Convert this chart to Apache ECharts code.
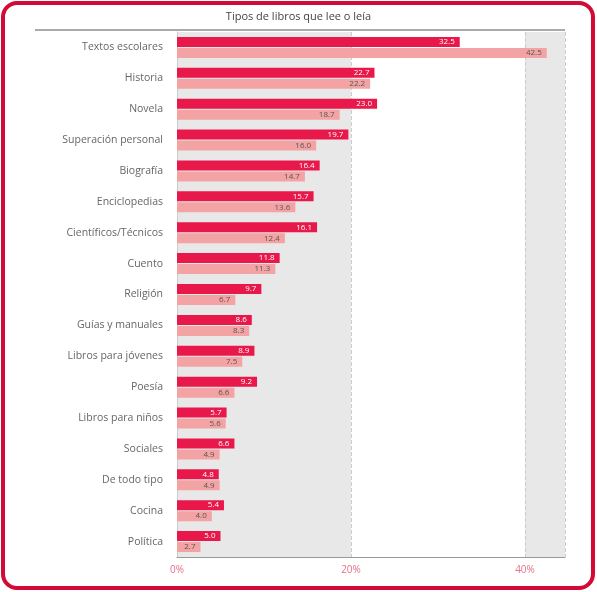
<!DOCTYPE html>
<html><head><meta charset="utf-8">
<script src="https://cdn.jsdelivr.net/npm/echarts@6/dist/echarts.min.js"></script>
<style>html,body{margin:0;padding:0;background:#fff}#c{width:597px;height:592px}</style>
</head><body><div id="c"></div>
<script>
const categories = ["Textos escolares","Historia","Novela","Superación personal","Biografía","Enciclopedias","Científicos/Técnicos","Cuento","Religión","Guías y manuales","Libros para jóvenes","Poesía","Libros para niños","Sociales","De todo tipo","Cocina","Política"];
const seriesA = [32.5,22.7,23.0,19.7,16.4,15.7,16.1,11.8,9.7,8.6,8.9,9.2,5.7,6.6,4.8,5.4,5.0];
const seriesB = [42.5,22.2,18.7,16.0,14.7,13.6,12.4,11.3,6.7,8.3,7.5,6.6,5.6,4.9,4.9,4.0,2.7];
const titleText = "Tipos de libros que lee o leía";

const chart = echarts.init(document.getElementById('c'));
const fmt = p => p.value.toFixed(1);
chart.setOption({
  animation:false,
  title:{text:titleText,left:'center',top:6,textStyle:{fontSize:11,fontWeight:'normal',color:'#444',fontFamily:'Open Sans'}},
  grid:{left:177,right:32,top:32,bottom:35},
  graphic:[
    {type:'rect',x:3,y:3,shape:{x:0,y:0,width:590,height:585,r:14},style:{fill:'none',stroke:'#d20a35',lineWidth:4},z:100},
    {type:'line',shape:{x1:35,y1:30,x2:565,y2:30},style:{stroke:'#aaa',lineWidth:2},z:50}
  ],
  xAxis:{type:'value',min:0,max:44.6,interval:20,
    axisLabel:{formatter:v=>v+'%',color:'#e8708a',fontSize:10,fontFamily:'Open Sans',showMaxLabel:false},
    splitLine:{show:true,lineStyle:{type:'dashed',color:'#ccc'}},
    splitArea:{show:true,areaStyle:{color:['#e8e8e8','#ffffff']}},
    axisLine:{show:true,lineStyle:{color:'#999'}},axisTick:{show:false}},
  yAxis:{type:'category',data:categories,inverse:true,
    axisLabel:{color:'#666',fontSize:10.5,fontFamily:'Open Sans',margin:14},
    axisLine:{show:true,lineStyle:{color:'#ccc'}},axisTick:{show:false}},
  series:[
    {type:'bar',data:seriesA,barWidth:10,barGap:'10%',itemStyle:{color:'#e8194a'},
     label:{show:true,position:'insideRight',formatter:fmt,color:'#fff',fontSize:8,fontFamily:'Open Sans'}},
    {type:'bar',data:seriesB,barWidth:10,barGap:'10%',itemStyle:{color:'#f3a3a3'},
     label:{show:true,position:'insideRight',formatter:fmt,color:'#555',fontSize:8,fontFamily:'Open Sans'}}
  ]
});
</script></body></html>
